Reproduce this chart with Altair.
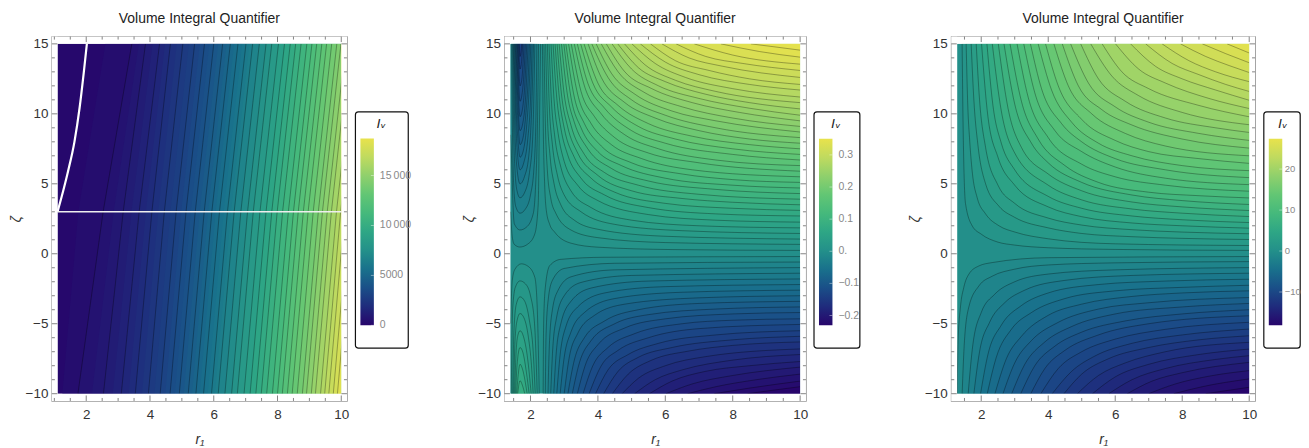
import altair as alt
import pandas as pd

title_text = "Volume Integral Quantifier"
colour_range = ["#27056b", "#1f2b7c", "#1a4f88", "#19718c", "#23908a", "#2ea685", "#45b97c", "#62c674", "#8fd06c", "#bfda5f", "#e8e24c"]
x_major = [2, 4, 6, 8, 10]
y_major = [-10, -5, 0, 5, 10, 15]
y_minor = [-9, -8, -7, -6, -4, -3, -2, -1, 1, 2, 3, 4, 6, 7, 8, 9, 11, 12, 13, 14]
x_minor_a = [1, 1.5, 2.5, 3, 3.5, 4.5, 5, 5.5, 6.5, 7, 7.5, 8.5, 9, 9.5]
x_minor_b = [1.5, 2.5, 3, 3.5, 4.5, 5, 5.5, 6.5, 7, 7.5, 8.5, 9, 9.5]

# ---------- panel 1: contours read at the bottom edge, at zeta=3 and at the top edge
p1_bottom = [1.74, 2.54, 3.10, 3.54, 3.95, 4.32, 4.63, 4.92, 5.2, 5.44, 5.68, 5.93, 6.14, 6.35, 6.56, 6.74, 6.95, 7.14, 7.32, 7.49, 7.66, 7.84, 8.0, 8.15, 8.31, 8.46, 8.62, 8.78, 8.91, 9.06, 9.19, 9.35, 9.48, 9.61, 9.75, 9.88]
p1_mid = [2.53, 3.16, 3.66, 4.06, 4.45, 4.82, 5.13, 5.42, 5.7, 5.94, 6.18, 6.43, 6.64, 6.85, 7.06, 7.24, 7.45, 7.64, 7.82, 7.99, 8.16, 8.34, 8.5, 8.65, 8.81, 8.96, 9.12, 9.28, 9.41, 9.56, 9.69, 9.85, 9.98, 10.11, 10.25, 10.38]
p1_top = [3.43, 3.86, 4.30, 4.64, 5.03, 5.40, 5.71, 6.0, 6.28, 6.52, 6.76, 7.01, 7.22, 7.43, 7.64, 7.82, 8.03, 8.22, 8.40, 8.57, 8.74, 8.92, 9.08, 9.23, 9.39, 9.54, 9.70, 9.86, 9.99, 10.14, 10.27, 10.43, 10.56, 10.69, 10.83, 10.96]
p1_vals = [625, 1125, 1625, 2125, 2625, 3125, 3625, 4125, 4625, 5125, 5625, 6125, 6750, 7250, 7750, 8250, 8750, 9250, 9750, 10250, 10750, 11250, 11750, 12250, 12750, 13250, 13750, 14250, 14750, 15250, 15750, 16250, 16750, 17250, 17750, 18250]
# colour steps between the drawn contours on the dark left side of panel 1 (no line drawn for these)
p1_step_bottom = [1.25, 2.18, 2.83, 3.33, 3.75, 4.14, 4.48, 4.78, 5.06, 5.32, 5.56, 5.81, 6.04]
p1_step_mid = [1.75, 2.86, 3.42, 3.87, 4.26, 4.64, 4.98, 5.28, 5.56, 5.82, 6.06, 6.31, 6.54]
p1_step_top = [2.6, 3.65, 4.08, 4.47, 4.84, 5.22, 5.56, 5.86, 6.14, 6.4, 6.64, 6.89, 7.12]
p1_step_vals = [375, 875, 1375, 1875, 2375, 2875, 3375, 3875, 4375, 4875, 5375, 5875, 6375]
p1_white_curve = [(1.1, 3), (1.22, 4.0), (1.43, 5.9), (1.63, 8.0), (1.79, 10.4), (1.92, 12.9), (2.02, 15)]
p1_white_line = [(1.1, 3), (10, 3)]

# ---------- panel 2
p2_up = [
 [(2.355,15),(2.38,9),(2.42,5),(2.47,3.1),(2.57,2.1),(2.72,1.54),(3.21,.75),(4,.47),(6.2,.3),(10,.24)],
 [(2.4,15),(2.44,9.5),(2.5,6),(2.6,4),(2.75,2.9),(3.2,1.7),(4,1.15),(6,.8),(10,.67)],
 [(2.45,15),(2.5,10),(2.58,7),(2.7,5),(2.9,3.5),(3.3,2.4),(4,1.75),(6,1.25),(10,1.05)],
 [(2.5,15),(2.56,10.5),(2.65,7.8),(2.8,5.6),(3,4.2),(3.5,3),(4.5,2.1),(6.5,1.65),(10,1.45)],
 [(2.55,15),(2.62,11),(2.72,8.4),(2.9,6.2),(3.2,4.5),(3.8,3.3),(5,2.4),(7,2.0),(10,1.85)],
 [(2.61,15),(2.7,11),(2.82,8.6),(3,6.6),(3.4,4.9),(4,3.8),(5.5,2.8),(7.5,2.4),(10,2.26)],
 [(2.67,15),(2.77,11.4),(2.9,9),(3.1,7.1),(3.5,5.4),(4.2,4.2),(5.5,3.3),(7.5,2.85),(10,2.7)],
 [(2.73,15),(2.85,11.3),(3,9),(3.3,6.9),(3.8,5.4),(4.5,4.4),(6,3.6),(8,3.25),(10,3.1)],
 [(2.79,15),(2.92,11.4),(3.1,9.1),(3.4,7.2),(4,5.6),(5,4.5),(6.5,3.95),(8,3.68),(10,3.5)],
 [(2.85,15),(3,11.4),(3.2,9.2),(3.6,7.1),(4.2,5.8),(5.2,4.9),(7,4.25),(10,3.9)],
 [(2.92,15),(3.1,11.3),(3.3,9.4),(3.7,7.5),(4.4,6.1),(5.5,5.2),(7.5,4.6),(10,4.3)],
 [(2.99,15),(3.2,11.2),(3.5,9),(4,7.3),(4.7,6.3),(6,5.4),(8,4.9),(10,4.7)],
 [(3.05,15),(3.3,11.2),(3.6,9.3),(4.1,7.7),(5,6.5),(6.5,5.7),(8,5.3),(10,5.1)],
 [(3.13,15),(3.4,11.4),(3.8,9.3),(4.4,7.8),(5.3,6.8),(6.8,6),(10,5.5)],
 [(3.21,15),(3.5,11.6),(3.9,9.8),(4.5,8.3),(5.5,7.2),(7,6.5),(10,5.9)],
 [(3.3,15),(3.6,12),(4.1,10),(4.8,8.5),(5.8,7.5),(7.5,6.7),(10,6.3)],
 [(3.39,15),(3.7,12.2),(4.2,10.4),(5,8.8),(6,7.9),(8,7.1),(10,6.7)],
 [(3.49,15),(3.85,12.2),(4.4,10.5),(5.2,9.1),(6.3,8.2),(8,7.5),(10,7.1)],
 [(3.59,15),(4,12.2),(4.6,10.6),(5.5,9.3),(6.8,8.4),(8.5,7.8),(10,7.5)],
 [(3.71,15),(4.1,12.6),(4.8,10.8),(5.7,9.7),(7,8.8),(8.5,8.2),(10,7.9)],
 [(3.82,15),(4.3,12.6),(5,11),(6,9.9),(7.5,9),(10,8.3)],
 [(3.95,15),(4.4,12.9),(5.1,11.4),(6.2,10.2),(7.5,9.5),(10,8.7)],
 [(4.1,15),(4.6,13),(5.4,11.5),(6.5,10.5),(8,9.7),(10,9.1)],
 [(4.25,15),(4.8,13),(5.6,11.8),(6.8,10.8),(8.2,10.1),(10,9.5)],
 [(4.42,15),(5,13.2),(5.8,12),(7,11.1),(8.5,10.4),(10,9.9)],
 [(4.59,15),(5.2,13.3),(6,12.3),(7.2,11.4),(8.5,10.8),(10,10.35)],
 [(4.79,15),(5.4,13.5),(6.3,12.4),(7.5,11.6),(10,10.8)],
 [(5.01,15),(5.7,13.6),(6.6,12.6),(8,11.8),(10,11.2)],
 [(5.26,15),(6,13.7),(7,12.8),(8.5,12.1),(10,11.7)],
 [(5.56,15),(6.3,13.8),(7.3,13.1),(8.5,12.5),(10,12.1)],
 [(5.9,15),(6.7,14),(7.7,13.4),(10,12.6)],
 [(6.32,15),(7.2,14.1),(8.3,13.6),(10,13.1)],
 [(6.86,15),(8,14.2),(10,13.55)],
 [(7.65,15),(8.8,14.45),(10,14.05)],
 [(8.54,15),(9.2,14.8),(10,14.55)],
]
p2_up_vals = [.01,.02,.03,.04,.05,.06,.07,.08,.09,.10,.11,.12,.13,.14,.15,.16,.17,.18,.19,.20,.21,.22,.23,.24,.25,.26,.27,.28,.29,.30,.31,.32,.33,.34,.345]
p2_down = [
 [(2.375,-10),(2.39,-5),(2.44,-2.4),(2.57,-.85),(2.9,-.4),(4.2,-.25),(10,-.2)],
 [(2.44,-10),(2.46,-6),(2.52,-3.4),(2.65,-1.9),(3,-1.05),(4.5,-.68),(10,-.59)],
 [(2.52,-10),(2.56,-6.5),(2.65,-4),(2.82,-2.6),(3.2,-1.65),(4.5,-1.15),(10,-.99)],
 [(2.6,-10),(2.66,-6.8),(2.77,-4.6),(3,-3),(3.5,-2.05),(5,-1.55),(10,-1.39)],
 [(2.69,-10),(2.76,-7.2),(2.9,-5),(3.2,-3.4),(3.8,-2.45),(5.5,-1.95),(10,-1.8)],
 [(2.78,-10),(2.88,-7.2),(3.05,-5.2),(3.4,-3.8),(4.2,-2.8),(6,-2.35),(10,-2.2)],
 [(2.88,-10),(3,-7.4),(3.2,-5.6),(3.6,-4.2),(4.5,-3.2),(6.5,-2.75),(10,-2.6)],
 [(3,-10),(3.15,-7.4),(3.4,-5.7),(3.9,-4.4),(4.8,-3.6),(7,-3.15),(10,-3)],
 [(3.11,-10),(3.3,-7.6),(3.6,-6),(4.2,-4.8),(5.2,-4),(7,-3.55),(10,-3.4)],
 [(3.24,-10),(3.45,-7.8),(3.8,-6.2),(4.5,-5),(5.5,-4.35),(7.5,-3.95),(10,-3.8)],
 [(3.39,-10),(3.65,-7.8),(4,-6.5),(4.8,-5.3),(6,-4.65),(8,-4.3),(10,-4.2)],
 [(3.56,-10),(3.85,-8),(4.3,-6.7),(5.1,-5.7),(6.5,-5),(8,-4.75),(10,-4.65)],
 [(3.74,-10),(4.1,-8),(4.6,-6.9),(5.5,-6),(7,-5.35),(10,-5.05)],
 [(3.93,-10),(4.3,-8.3),(4.9,-7.2),(5.8,-6.4),(7.5,-5.8),(10,-5.5)],
 [(4.17,-10),(4.6,-8.4),(5.2,-7.4),(6.2,-6.7),(8,-6.15),(10,-5.9)],
 [(4.43,-10),(4.9,-8.6),(5.6,-7.6),(6.7,-6.95),(8,-6.55),(10,-6.3)],
 [(4.72,-10),(5.2,-8.9),(6,-8),(7.2,-7.35),(10,-6.8)],
 [(5.09,-10),(5.7,-9),(6.5,-8.3),(8,-7.6),(10,-7.2)],
 [(5.53,-10),(6.2,-9.1),(7.2,-8.4),(8.5,-8),(10,-7.7)],
 [(6.02,-10),(6.8,-9.3),(8,-8.7),(10,-8.1)],
 [(6.66,-10),(7.5,-9.5),(8.7,-9),(10,-8.6)],
 [(7.45,-10),(8.5,-9.6),(10,-9.1)],
 [(8.44,-10),(9.2,-9.75),(10,-9.5)],
]
p2_down_vals = [-.01,-.02,-.03,-.04,-.05,-.06,-.07,-.08,-.09,-.10,-.11,-.12,-.13,-.14,-.15,-.16,-.17,-.18,-.19,-.20,-.21,-.22,-.23]
p2_cups = [
 [(1.41,3),(1.46,1.19),(1.52,.67),(1.685,.48),(1.93,.71),(2.13,1.43),(2.23,3.56),(2.26,8.3),(2.3,15)],
 [(1.41,8.5),(1.45,6),(1.48,3.56),(1.52,2.14),(1.69,1.7),(1.88,1.9),(2.08,2.85),(2.15,4.75),(2.2,8.3),(2.23,13),(2.24,15)],
 [(1.44,15),(1.47,8),(1.5,5),(1.56,3.4),(1.69,2.9),(1.85,3.2),(2.0,4.2),(2.1,6),(2.16,9.5),(2.19,15)],
 [(1.47,15),(1.5,9),(1.54,6),(1.6,4.5),(1.69,4.0),(1.83,4.4),(1.97,5.8),(2.07,8.5),(2.13,15)],
 [(1.49,15),(1.53,9.5),(1.58,6.6),(1.69,5),(1.82,5.5),(1.95,7),(2.03,10),(2.09,15)],
 [(1.51,15),(1.56,9.8),(1.6,7.6),(1.69,6),(1.8,6.5),(1.92,8.2),(2.0,11),(2.05,15)],
 [(1.53,15),(1.58,10.2),(1.62,8.4),(1.69,6.9),(1.79,7.4),(1.89,9.2),(1.96,11.8),(2.01,15)],
 [(1.55,15),(1.6,10.8),(1.64,9),(1.69,7.8),(1.78,8.3),(1.87,10.2),(1.93,12.4),(1.97,15)],
 [(1.57,15),(1.62,11.2),(1.69,8.8),(1.77,9.3),(1.85,11),(1.93,15)],
 [(1.59,15),(1.63,12),(1.69,9.8),(1.76,10.3),(1.83,12),(1.89,15)],
 [(1.61,15),(1.65,12.2),(1.69,10.9),(1.75,11.4),(1.81,13),(1.85,15)],
 [(1.63,15),(1.66,13),(1.69,12),(1.74,12.4),(1.81,15)],
 [(1.65,15),(1.69,13.2),(1.73,13.6),(1.77,15)],
 [(1.67,15),(1.69,14.1),(1.72,14.4),(1.74,15)],
]
p2_cup_vals = [-.01,-.02,-.03,-.04,-.05,-.06,-.07,-.08,-.09,-.10,-.11,-.12,-.13,-.14]
p2_caps = [
 [(1.41,-5),(1.46,-1.9),(1.54,-1.1),(1.73,-.72),(1.93,-.9),(2.13,-1.7),(2.2,-3.85),(2.26,-10)],
 [(1.43,-10),(1.47,-4),(1.55,-2.4),(1.69,-1.94),(1.85,-2.15),(2.0,-3),(2.12,-5),(2.2,-10)],
 [(1.47,-10),(1.51,-5.5),(1.58,-3.6),(1.69,-3.08),(1.83,-3.4),(1.97,-4.8),(2.08,-7),(2.14,-10)],
 [(1.5,-10),(1.54,-6.3),(1.6,-4.8),(1.69,-4.27),(1.81,-4.6),(1.94,-6),(2.03,-8),(2.08,-10)],
 [(1.53,-10),(1.57,-7.2),(1.62,-5.9),(1.69,-5.5),(1.79,-5.9),(1.91,-7.4),(2.02,-10)],
 [(1.56,-10),(1.6,-8),(1.69,-6.7),(1.78,-7.1),(1.88,-8.5),(1.96,-10)],
 [(1.59,-10),(1.63,-8.8),(1.69,-7.9),(1.77,-8.3),(1.9,-10)],
 [(1.62,-10),(1.69,-9.07),(1.76,-9.4),(1.83,-10)],
]
p2_cap_vals = [.01,.02,.03,.04,.05,.06,.07,.08]

# ---------- panel 3
p3_up = [
 [(1.43,15),(1.46,9),(1.53,3.6),(1.73,2.0),(2,1.4),(2.5,.83),(3,.62),(4,.43),(6,.31),(10,.24)],
 [(1.55,15),(1.6,10.5),(1.65,8.3),(1.73,5.9),(1.88,4.0),(2.13,2.85),(2.53,2.0),(3.02,1.54),(4,1.07),(6,.71),(10,.59)],
 [(1.7,15),(1.78,11),(1.9,7.8),(2.13,5),(2.53,3.4),(3,2.6),(4,1.85),(5,1.45),(6.5,1.22),(8,1.1),(10,1.02)],
 [(1.85,15),(1.95,11),(2.13,7.6),(2.5,4.9),(3,3.6),(4,2.55),(5,2.05),(6.5,1.72),(8,1.55),(10,1.43)],
 [(2.01,15),(2.2,9.8),(2.5,6.9),(3,4.9),(4,3.35),(5,2.65),(6.5,2.2),(8,2.0),(10,1.83)],
 [(2.17,15),(2.35,10.6),(2.6,7.9),(3,6.0),(4,4.1),(5,3.25),(6.5,2.7),(8,2.43),(10,2.23)],
 [(2.33,15),(2.6,10.2),(3,7.2),(4,4.9),(5,3.85),(6.5,3.2),(8,2.9),(10,2.66)],
 [(2.51,15),(2.8,10.4),(3.2,7.6),(4,5.7),(5,4.5),(6.5,3.7),(8,3.35),(10,3.09)],
 [(2.68,15),(3,10.7),(3.5,7.9),(4,6.5),(5,5.1),(6.5,4.2),(8,3.8),(10,3.52)],
 [(2.86,15),(3.2,10.9),(3.7,8.2),(4.5,6.3),(5.5,5.1),(7,4.4),(8.5,4.15),(10,3.99)],
 [(3.07,15),(3.4,11.2),(4,8.3),(5,6.4),(6,5.5),(7.5,4.9),(10,4.47)],
 [(3.27,15),(3.6,11.5),(4.2,8.8),(5,7.3),(6,6.2),(7.5,5.4),(10,4.94)],
 [(3.47,15),(3.8,11.8),(4.4,9.3),(5,8.0),(6,6.8),(7.5,6),(10,5.44)],
 [(3.7,15),(4.1,11.7),(4.7,9.4),(5.5,7.9),(6.5,7.0),(8,6.3),(10,5.94)],
 [(3.92,15),(4.3,12),(5,9.6),(6,8.1),(7,7.3),(8.5,6.8),(10,6.46)],
 [(4.17,15),(4.6,12),(5.3,10),(6.3,8.6),(7.5,7.7),(10,7.0)],
 [(4.42,15),(4.9,12),(5.6,10.3),(6.5,9.2),(8,8.2),(10,7.55)],
 [(4.67,15),(5.2,12.2),(6,10.5),(7,9.4),(8.5,8.6),(10,8.1)],
 [(4.97,15),(5.5,12.5),(6.3,10.9),(7.5,9.7),(9,9),(10,8.67)],
 [(5.27,15),(5.9,12.7),(6.7,11.3),(8,10.1),(10,9.22)],
 [(5.61,15),(6.2,13),(7,11.8),(8.5,10.6),(10,9.79)],
 [(6.01,15),(6.7,13.2),(7.5,12.2),(8.8,11.1),(10,10.38)],
 [(6.46,15),(7.2,13.4),(8,12.5),(9,11.7),(10,10.97)],
 [(6.91,15),(7.7,13.6),(8.5,12.8),(9.3,12.1),(10,11.6)],
 [(7.4,15),(8.2,13.8),(9,13),(10,12.3)],
 [(7.95,15),(8.7,14.1),(9.4,13.45),(10,12.95)],
 [(8.6,15),(9.3,14.3),(10,13.65)],
 [(9.34,15),(10,14.35)],
]
p3_up_vals = [.95,1.9,2.85,3.8,4.75,5.7,6.65,7.6,8.55,9.5,10.45,11.4,12.35,13.3,14.25,15.2,16.15,17.1,18.05,19,19.95,20.9,21.85,22.8,23.75,24.7,25.65,26.6]
p3_down = [
 [(1.28,-10),(1.31,-6.2),(1.38,-3.8),(1.48,-2.4),(1.63,-1.46),(1.93,-.87),(2.33,-.63),(4,-.28),(10,-.2)],
 [(1.43,-10),(1.5,-6.2),(1.63,-3.8),(1.93,-2.3),(2.33,-1.6),(3,-1.1),(4,-.8),(6,-.65),(10,-.56)],
 [(1.61,-10),(1.75,-6.5),(2,-4.2),(2.4,-2.9),(3,-2),(4,-1.45),(6,-1.15),(10,-.99)],
 [(1.78,-10),(1.95,-7),(2.25,-4.9),(2.7,-3.5),(3.3,-2.6),(4.5,-1.9),(6.5,-1.55),(10,-1.39)],
 [(1.98,-10),(2.2,-7.2),(2.6,-5.1),(3.2,-3.7),(4,-2.8),(5.5,-2.2),(7.5,-1.95),(10,-1.82)],
 [(2.18,-10),(2.45,-7.4),(2.9,-5.4),(3.5,-4.2),(4.5,-3.2),(6,-2.65),(8,-2.4),(10,-2.25)],
 [(2.41,-10),(2.75,-7.5),(3.2,-5.9),(4,-4.4),(5,-3.6),(6.5,-3.05),(8,-2.8),(10,-2.65)],
 [(2.65,-10),(3,-7.8),(3.5,-6.2),(4.3,-4.9),(5.5,-3.95),(7,-3.5),(10,-3.13)],
 [(2.91,-10),(3.3,-7.9),(3.9,-6.3),(4.7,-5.2),(6,-4.3),(8,-3.8),(10,-3.55)],
 [(3.18,-10),(3.6,-8),(4.2,-6.6),(5,-5.6),(6.3,-4.8),(8,-4.3),(10,-4)],
 [(3.48,-10),(3.9,-8.2),(4.5,-6.9),(5.5,-5.8),(7,-5),(10,-4.43)],
 [(3.78,-10),(4.3,-8.2),(5,-7),(6,-6.1),(7.5,-5.4),(10,-4.9)],
 [(4.12,-10),(4.7,-8.4),(5.4,-7.3),(6.5,-6.4),(8,-5.8),(10,-5.38)],
 [(4.47,-10),(5,-8.6),(5.8,-7.5),(7,-6.7),(8.5,-6.15),(10,-5.86)],
 [(4.87,-10),(5.5,-8.7),(6.3,-7.8),(7.5,-7),(10,-6.33)],
 [(5.32,-10),(6,-8.8),(7,-7.9),(8.5,-7.2),(10,-6.81)],
 [(5.81,-10),(6.5,-9),(7.5,-8.2),(9,-7.55),(10,-7.28)],
 [(6.36,-10),(7.1,-9.1),(8,-8.5),(10,-7.76)],
 [(7,-10),(7.8,-9.3),(8.8,-8.75),(10,-8.35)],
 [(7.75,-10),(8.6,-9.5),(10,-8.94)],
 [(8.7,-10),(10,-9.54)],
]
p3_down_vals = [-.86,-1.72,-2.58,-3.44,-4.3,-5.16,-6.02,-6.88,-7.74,-8.6,-9.46,-10.32,-11.18,-12.04,-12.9,-13.76,-14.62,-15.48,-16.34,-17.2,-18.06]

# ---------- colour bars
cb1_values = [0, 5000, 10000, 15000]
cb1_labels = ["0", "5000", "10\u2009000", "15\u2009000"]
cb2_values = [-.2, -.1, 0, .1, .2, .3]
cb2_labels = ["\u22120.2", "\u22120.1", "0.", "0.1", "0.2", "0.3"]
cb3_values = [-10, 0, 10, 20]
cb3_labels = ["\u221210", "0", "10", "20"]

FONT = "Liberation Sans"
H = 365.5
Y_DOMAIN = [-10.52, 15.52]


def table(rows, vals, prefix):
    out = []
    for i, (row, v) in enumerate(zip(rows, vals)):
        for j, (r, z) in enumerate(row):
            out.append({"id": f"{prefix}{i:03d}", "seq": j, "r": r, "z": z, "val": v})
    return pd.DataFrame(out)


def axes(dom):
    return (alt.X("r:Q", scale=alt.Scale(domain=dom, nice=False, zero=False),
                  axis=alt.Axis(values=x_major, title="r\u2081", tickSize=0, domain=False, grid=False,
                                labelFontSize=13.5, labelColor="#333", labelFont=FONT, labelPadding=7,
                                titleFont=FONT, titleFontSize=14, titleFontStyle="italic", titleFontWeight="normal",
                                titleColor="#333", titlePadding=11, labelFlush=False, labelOverlap=False)),
            alt.Y("z:Q", scale=alt.Scale(domain=Y_DOMAIN, nice=False, zero=False),
                  axis=alt.Axis(values=y_major, title="\u03b6", tickSize=0, domain=False, grid=False, minExtent=26,
                                labelFontSize=13.5, labelColor="#333", labelFont=FONT, labelPadding=4,
                                titleFont=FONT, titleFontSize=14, titleFontStyle="italic", titleFontWeight="normal",
                                titleColor="#333", titlePadding=1.5, labelFlush=False, labelOverlap=False)))


def ticks(x_minor, W):
    parts = []
    for vals, n in ((x_major, 5.5), (x_minor, 3)):
        d = pd.DataFrame({"r": vals})
        parts.append(alt.Chart(d).mark_rule(color="#666", strokeWidth=0.8).encode(x="r:Q", y=alt.value(H), y2=alt.value(H - n)))
        parts.append(alt.Chart(d).mark_rule(color="#666", strokeWidth=0.8).encode(x="r:Q", y=alt.value(0), y2=alt.value(n)))
    for vals, n in ((y_major, 5.5), (y_minor, 3)):
        d = pd.DataFrame({"z": vals})
        parts.append(alt.Chart(d).mark_rule(color="#666", strokeWidth=0.8).encode(y="z:Q", x=alt.value(0), x2=alt.value(n)))
        parts.append(alt.Chart(d).mark_rule(color="#666", strokeWidth=0.8).encode(y="z:Q", x=alt.value(W), x2=alt.value(W - n)))
    return parts


def panel(dom, rmin, W, cdom, base_val, up_groups, down_groups, x_minor, horizontal=None, horizontal_lines=None, extra=None):
    X, Y = axes(dom)
    colour = alt.Color("val:Q", scale=alt.Scale(domain=cdom, range=colour_range, interpolate="rgb"), legend=None)
    layers = []
    base = pd.DataFrame({"r": [rmin], "r2": [10], "z": [-10], "z2": [15], "val": [base_val]})
    layers.append(alt.Chart(base).mark_rect().encode(x=X, x2="r2:Q", y=Y, y2="z2:Q", color=colour))
    line_frames = []
    if horizontal is not None:
        df = horizontal.assign(b=10)
        layers.append(alt.Chart(df).mark_area(orient="horizontal", clip=True).encode(
            x=X, x2="b:Q", y=Y, color=colour, detail="id:N"))
        line_frames.append(horizontal_lines)
    for rows, edge in [(g, 15) for g in up_groups] + [(g, -10) for g in down_groups]:
        df = rows.assign(b=edge)
        layers.append(alt.Chart(df).mark_area(interpolate="monotone", clip=True).encode(
            x=X, y=Y, y2="b:Q", color=colour, detail="id:N"))
        line_frames.append(df)
    ldf = pd.concat(line_frames)
    layers.append(alt.Chart(ldf).mark_line(interpolate="linear" if horizontal is not None else "monotone", clip=True,
                                           color="#000", opacity=0.36, strokeWidth=0.85).encode(
        x=X, y=Y, detail="id:N", order="seq:Q"))
    if extra:
        layers.extend(extra(X, Y))
    mask = pd.DataFrame({"r": [dom[0], 10, dom[0], dom[0]], "r2": [rmin, dom[1], dom[1], dom[1]],
                         "z": [Y_DOMAIN[0], Y_DOMAIN[0], Y_DOMAIN[0], 15], "z2": [Y_DOMAIN[1], Y_DOMAIN[1], -10, Y_DOMAIN[1]]})
    layers.append(alt.Chart(mask).mark_rect(color="white", clip=True).encode(x=X, x2="r2:Q", y=Y, y2="z2:Q"))
    layers.extend(ticks(x_minor, W))
    return alt.layer(*layers).properties(
        width=W, height=H,
        title=alt.TitleParams(title_text, font=FONT, fontSize=14, fontWeight="normal", color="#222", offset=10),
        view=alt.ViewBackground(stroke="#999", strokeWidth=1.3, fill="white"))


def colourbar(lo, hi, per_px, values, labels, box_w, title_x, label_x=24.5, label_size=10.5):
    top = hi + (137 - 34.5) * per_px
    bottom = lo - (400 - 324) * per_px
    yscale = alt.Scale(domain=[bottom, top], nice=False, zero=False)
    one = pd.DataFrame({"lo": [lo], "hi": [hi]})
    grad = alt.LinearGradient(gradient="linear", x1=0, x2=0, y1=1, y2=0,
                              stops=[alt.GradientStop(color=c, offset=i / (len(colour_range) - 1)) for i, c in enumerate(colour_range)])
    frame = alt.Chart(one).mark_rect(fill="white", stroke="#111", strokeWidth=1.2, cornerRadius=3).encode(
        x=alt.value(0), x2=alt.value(box_w), y=alt.value(75.5), y2=alt.value(312.5))
    bar = alt.Chart(one).mark_rect(fill=grad).encode(
        x=alt.value(5), x2=alt.value(18.5), y=alt.Y("lo:Q", scale=yscale, axis=None), y2="hi:Q")
    tk = pd.DataFrame({"v": values, "t": labels})
    marks = alt.Chart(tk).mark_rule(color="white", opacity=0.6, strokeWidth=0.7).encode(
        x=alt.value(15.5), x2=alt.value(18.5), y=alt.Y("v:Q", scale=yscale, axis=None))
    text = alt.Chart(tk).mark_text(align="left", baseline="middle", font=FONT, fontSize=label_size, color="#888").encode(
        x=alt.value(label_x), y=alt.Y("v:Q", scale=yscale, axis=None), text="t:N")
    head = alt.Chart(one).mark_text(text="I\u1d65", font="DejaVu Sans", fontStyle="italic", fontSize=13, color="#222").encode(
        x=alt.value(title_x), y=alt.value(88))
    return alt.layer(frame, bar, marks, text, head).properties(
        width=box_w, height=H,
        title=alt.TitleParams(" ", font=FONT, fontSize=14, offset=10),
        view=alt.ViewBackground(stroke="transparent"))


def white_lines(X, Y):
    curve = pd.DataFrame([{"seq": i, "r": r, "z": z} for i, (r, z) in enumerate(p1_white_curve)])
    flat = pd.DataFrame([{"seq": i, "r": r, "z": z} for i, (r, z) in enumerate(p1_white_line)])
    return [alt.Chart(curve).mark_line(color="white", strokeWidth=2.2, interpolate="monotone", clip=True).encode(x=X, y=Y, order="seq:Q"),
            alt.Chart(flat).mark_line(color="#eeeeee", strokeWidth=1.4, clip=True).encode(x=X, y=Y, order="seq:Q")]


p1_rows = [[(b, -10), (m, 3), (t, 15)] for b, m, t in zip(p1_bottom, p1_mid, p1_top)]
p1_step_rows = [[(b, -10), (m, 3), (t, 15)] for b, m, t in zip(p1_step_bottom, p1_step_mid, p1_step_top)]
p1_fill = sorted(zip(p1_rows + p1_step_rows, p1_vals + p1_step_vals), key=lambda item: item[1])
p1 = panel([0.922, 10.178], 1.1, 296, [0, 18700], 125, [], [], x_minor_a,
           horizontal=table([f[0] for f in p1_fill], [f[1] for f in p1_fill], "a"),
           horizontal_lines=table(p1_rows, p1_vals, "l"), extra=white_lines)
p2 = panel([1.228, 10.172], 1.4, 302.4, [-0.23, 0.35], 0,
           [table(p2_cups, p2_cup_vals, "u"), table(p2_up, p2_up_vals, "k")],
           [table(p2_caps, p2_cap_vals, "c"), table(p2_down, p2_down_vals, "m")], x_minor_b)
p3 = panel([1.106, 10.174], 1.28, 304.7, [-18.1, 27.4], 0,
           [table(p3_up, p3_up_vals, "c")], [table(p3_down, p3_down_vals, "n")], x_minor_b)

cb1 = colourbar(0, 18700, 5000 / 50.2, cb1_values, cb1_labels, 53, 26)
cb2 = colourbar(-0.23, 0.35, 0.1 / 32.2, cb2_values, cb2_labels, 46, 22)
cb3 = colourbar(-18.1, 27.4, 10 / 41.1, cb3_values, cb3_labels, 36.5, 19, label_x=21, label_size=9.5)

left = alt.hconcat(p1, cb1, spacing=4.5).resolve_scale(color="independent", y="independent", x="independent")
middle = alt.hconcat(p2, cb2, spacing=4.5).resolve_scale(color="independent", y="independent", x="independent")
right = alt.hconcat(p3, cb3, spacing=4.5).resolve_scale(color="independent", y="independent", x="independent")
chart = alt.hconcat(
    alt.hconcat(left, middle, spacing=49).resolve_scale(color="independent", y="independent", x="independent"),
    right, spacing=46.2,
).resolve_scale(color="independent", y="independent", x="independent").properties(
    padding={"left": 0, "right": 0, "top": 2, "bottom": 0}, background="white").configure_view(strokeWidth=0)

chart.save("out.html", embed_options={"renderer": "svg", "actions": False})
